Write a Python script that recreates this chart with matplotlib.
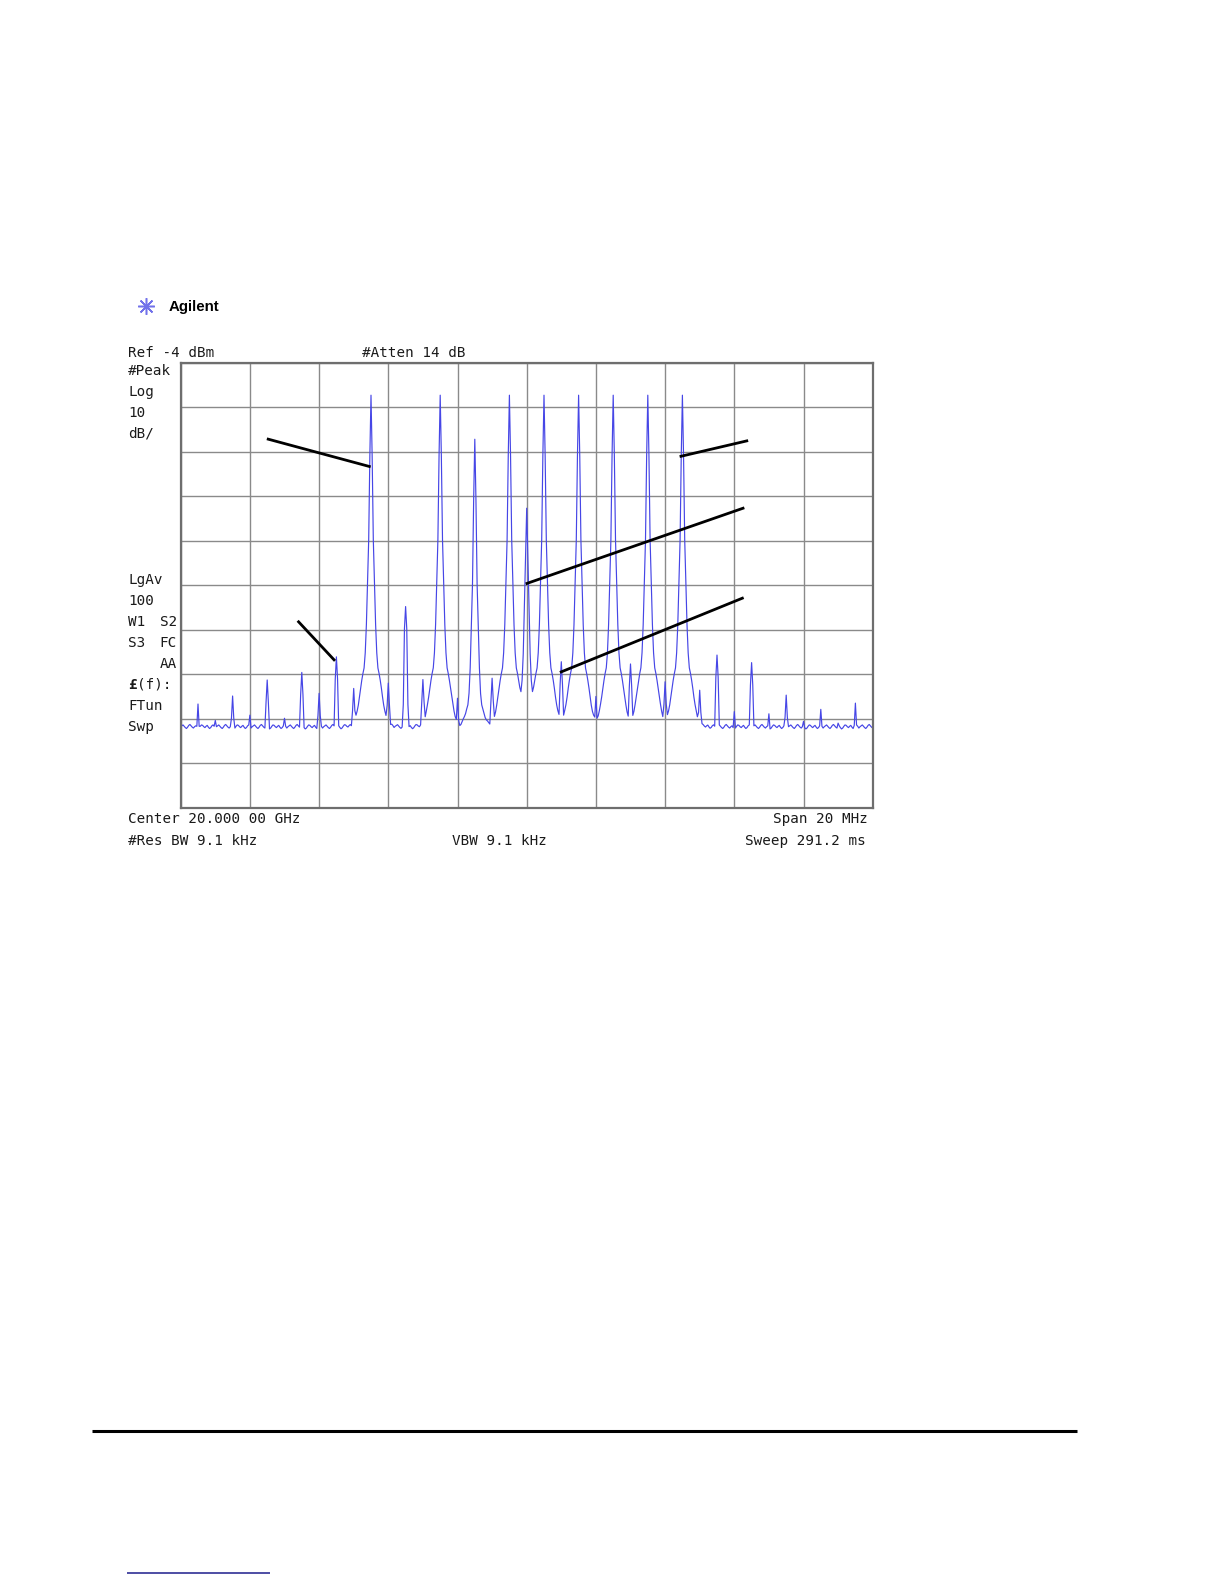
import matplotlib.pyplot as plt
import numpy as np

# page size in pixels (saved at dpi 100)
W, H = 1224, 1584

# analyzer settings shown on screen
ref_dbm = -4
db_per_div = 10
span_mhz = 20
n_points = 601

# main carriers: offset from the 20 GHz centre (MHz) and peak level (dBm)
carrier_mhz = [-4.5, -2.5, -1.5, -0.5, 0.5, 1.5, 2.5, 3.5, 4.5]
carrier_dbm = [-11.3, -11.3, -21.2, -11.3, -11.3, -11.3, -11.3, -11.3, -11.3]

# feed-through line at the centre
center_mhz = 0.0
center_dbm = -36.7

# small spurs sitting on the noise floor
spur_mhz = [-9.5, -9.0, -8.5, -8.0, -7.5, -7.0, -6.5, -6.0, -5.5, -5.0,
            -4.0, -3.5, -3.0, -2.0, -1.0, 1.0, 2.0, 3.0, 4.0,
            5.0, 5.5, 6.0, 6.5, 7.0, 7.5, 8.0, 8.5, 9.0, 9.5]
spur_dbm = [-80.7, -84.4, -78.9, -83.2, -75.3, -83.9, -73.6, -78.3, -70.1, -77.2,
            -76.0, -58.8, -75.2, -79.4, -74.9, -71.2, -79.0, -71.7, -75.7,
            -77.6, -69.7, -82.4, -71.4, -82.9, -78.7, -84.6, -81.9, -85.0, -80.5]

noise_floor_dbm = -85.8
floor_ripple_db = [0.0, 0.2, 0.4, 0.1, -0.2, -0.4, -0.1, 0.3, 0.5, 0.2,
                   -0.1, -0.3, 0.0, 0.2, -0.2, -0.5, -0.3, 0.1, 0.4, 0.3,
                   0.0, -0.2, 0.1, 0.3, -0.1, -0.4, -0.2, 0.2, 0.4, 0.1, -0.3]

# skirt of a carrier: dB below the peak at a given offset (MHz)
bucket = span_mhz / (n_points - 1)
skirt_offset = [0, bucket, 2 * bucket, 3 * bucket, 4 * bucket, 5 * bucket,
                0.2, 0.25, 0.3, 0.37, 0.42, 0.47, 0.5, 0.6, 1.0]
skirt_drop = [0, 13.7, 32.5, 42, 51.6, 58, 61.5, 63.5, 66.5, 71.5, 75, 78.5, 81, 88, 100]
center_offset = [0, bucket, 2 * bucket, 0.1, 0.17, 0.25, 0.35, 0.5, 1.0]
center_drop = [0, 10.9, 22, 33, 48, 60, 72, 85, 100]
spur_offset = [0, bucket, 2 * bucket, 3 * bucket]
spur_drop = [0, 5, 22, 40]

# black leader lines (MHz, dBm) -> (MHz, dBm)
leaders = [((-7.51, -21.1), (-4.51, -27.4)),
           ((-6.62, -62.0), (-5.54, -71.0)),
           ((4.42, -25.1), (6.40, -21.5)),
           ((-0.03, -53.7), (6.29, -36.6)),
           ((0.96, -73.6), (6.27, -56.8))]

# --- build the trace (power sum of carriers and floor, spurs on top) ---
f = np.linspace(-span_mhz / 2, span_mhz / 2, n_points)
ripple = np.resize(floor_ripple_db, f.size)
p = 10 ** ((noise_floor_dbm + ripple) / 10)
for fc, lvl in zip(carrier_mhz, carrier_dbm):
    d = np.interp(np.abs(f - fc), skirt_offset, skirt_drop, right=200)
    p += 10 ** ((lvl - d) / 10)
d = np.interp(np.abs(f - center_mhz), center_offset, center_drop, right=200)
p += 10 ** ((center_dbm - d) / 10)
trace = 10 * np.log10(p)
for fc, lvl in zip(spur_mhz, spur_dbm):
    d = np.interp(np.abs(f - fc), spur_offset, spur_drop, right=200)
    trace = np.maximum(trace, lvl - d)

fig = plt.figure(figsize=(W / 100, H / 100), dpi=100)

# page overlay in pixel coordinates for texts and rules
page = fig.add_axes([0, 0, 1, 1])
page.set_xlim(0, W)
page.set_ylim(H, 0)
page.axis("off")

mono = dict(family="DejaVu Sans Mono", fontsize=10.3, color="#1a1a1a", va="baseline")

# screen annotations
page.text(128, 356.7, f"Ref {ref_dbm} dBm", **mono)
page.text(361.5, 356.7, "#Atten 14 dB", **mono)
for s, y in zip(["#Peak", "Log", f"{db_per_div}", "dB/"], [375, 396, 417, 437.5]):
    page.text(128, y, s, **mono)
for s, y in zip(["LgAv", "100", "W1", "S3", "FTun", "Swp"], [584, 605, 626, 647, 710, 731]):
    page.text(128, y, s, **mono)
for s, y in zip(["S2", "FC", "AA"], [626, 647, 668]):
    page.text(177, y, s, ha="right", **mono)
page.text(128, 689, "£", fontweight="bold", **mono)
page.text(137, 689, "(f):", **mono)
page.text(128, 823, "Center 20.000 00 GHz", **mono)
page.text(867.5, 823, f"Span {span_mhz} MHz", ha="right", **mono)
page.text(128, 845, "#Res BW 9.1 kHz", **mono)
page.text(452.5, 845, "VBW 9.1 kHz", **mono)
page.text(865.5, 845, "Sweep 291.2 ms", ha="right", **mono)

# Agilent logo
page.plot(146, 306, marker=(8, 2, 0), ms=12, mew=1.1, color="#7272ea")
page.plot(146, 306, marker="o", ms=3, mew=0, color="#7272ea")
page.text(168.5, 311.5, "Agilent", family=["Liberation Sans Narrow", "Liberation Sans"],
          fontweight="bold", fontsize=10.8, color="black", va="baseline")

# page rules
page.plot([92, 1077], [1431, 1431], color="black", lw=2.2, solid_capstyle="butt")
page.plot([127, 270], [1573, 1573], color="#1c1c8c", lw=1.1, solid_capstyle="butt")

# --- analyzer screen ---
ax = fig.add_axes([180.7 / W, 1 - 807.7 / H, 692 / W, 445 / H])
ax.plot(f, trace, color="#4646e6", lw=0.85)
for (x0, y0), (x1, y1) in leaders:
    ax.plot([x0, x1], [y0, y1], color="black", lw=2, solid_capstyle="butt")

ax.set_xlim(-span_mhz / 2, span_mhz / 2)
ax.set_ylim(ref_dbm - 10 * db_per_div, ref_dbm)
ax.set_xticks(np.arange(-span_mhz / 2, span_mhz / 2 + 0.1, span_mhz / 10))
ax.set_yticks(np.arange(ref_dbm - 10 * db_per_div, ref_dbm + 0.1, db_per_div))
ax.tick_params(length=0, labelbottom=False, labelleft=False)
ax.grid(True, color="#8a8a8a", lw=1.0)
ax.set_axisbelow(True)
for sp in ax.spines.values():
    sp.set_color("#6e6e6e")
    sp.set_linewidth(1.6)

fig.savefig("out.png", dpi=100, facecolor="white")
